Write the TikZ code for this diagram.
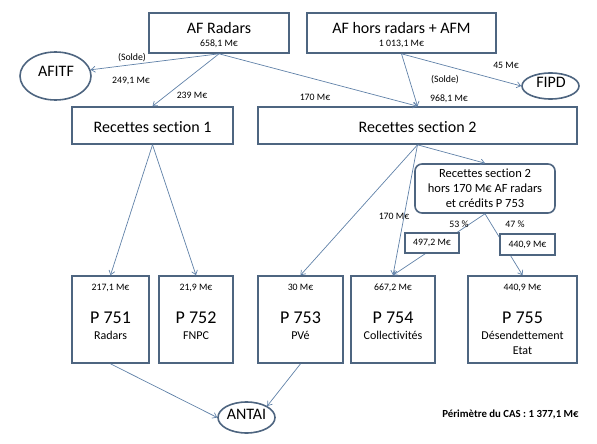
\documentclass[tikz,border=0pt]{standalone}
\usepackage{fontspec}
\setmainfont{Carlito}[Ligatures=NoCommon]
\usetikzlibrary{arrows.meta,positioning,shapes.geometric}
\definecolor{boxline}{RGB}{78,101,128}
\definecolor{flowline}{RGB}{96,129,168}

\tikzset{
  box/.style={draw=boxline, line width=1.6pt, fill=white, inner sep=0pt},
  oval/.style={ellipse, draw=boxline, line width=1.6pt, fill=white, inner sep=0pt},
  flow/.style={draw=flowline, line width=0.7pt, -{Straight Barb[length=4pt,width=6pt]}},
  big/.style={font=\fontsize{16}{18}\selectfont, inner sep=0pt},
  mid/.style={font=\fontsize{12}{15}\selectfont, inner sep=0pt},
  amt/.style={font=\fontsize{9.8}{11}\selectfont, inner sep=0pt},
}

\begin{document}
\begin{tikzpicture}[x=1pt,y=-1pt]
\useasboundingbox (0,0) rectangle (597,444);

% sources
\node[box, minimum width=140pt, minimum height=40pt] (radars) at (219,33) {};
\node[big, anchor=base] (radars-t) at (219,34) {AF Radars};
\node[amt, anchor=base] (radars-m) at (219,46.5) {658,1 M€};
\node[box, minimum width=189pt, minimum height=40pt] (horsradars) at (401.5,33) {};
\node[big, anchor=base] (horsradars-t) at (401.5,34) {AF hors radars + AFM};
\node[amt, anchor=base] (horsradars-m) at (401.5,46.5) {1 013,1 M€};

\node[oval, minimum width=71pt, minimum height=48pt] (afitf) at (55.5,76) {};
\node[big, anchor=base] (afitf-t) at (56,77) {AFITF};
\node[oval, minimum width=57pt, minimum height=26pt] (fipd) at (550.5,86) {};
\node[big, anchor=base] (fipd-t) at (551,87.5) {FIPD};

% sections
\node[box, minimum width=161pt, minimum height=37pt] (sec1) at (152.5,125.5) {};
\node[big, anchor=base] (sec1-t) at (152.5,132.3) {Recettes section 1};
\node[box, minimum width=319pt, minimum height=37pt] (sec2) at (417.5,125.5) {};
\node[big, anchor=base] (sec2-t) at (417.5,132.3) {Recettes section 2};
\node[box, rounded corners=7pt, minimum width=140pt, minimum height=49pt, align=center,
  font=\fontsize{12.5}{15}\selectfont] (reste) at (485,188.5)
  {Recettes section 2\\hors 170 M€ AF radars\\et crédits P 753};

% programmes
\foreach \n/\x/\w/\amt/\num/\lab in {p751/110.5/77/{217,1 M€}/{P 751}/Radars,
  p752/196/74/{21,9 M€}/{P 752}/FNPC, p753/300.5/85/{30 M€}/{P 753}/PVé,
  p754/393/84/{667,2 M€}/{P 754}/Collectivités,
  p755/522.5/109/{440,9 M€}/{P 755}/Désendettement}{
\node[box, minimum width=\w pt, minimum height=87pt] (\n) at (\x,319.5) {};
\node[amt, anchor=base] (\n-m) at (\x,290.5) {\amt};
\node[font=\fontsize{18}{20}\selectfont, inner sep=0pt, anchor=base] (\n-p) at (\x,323) {\num};
\node[mid, anchor=base] (\n-l) at (\x,339) {\lab};
}
\node[mid, anchor=base] (p755-l2) at (522.5,354) {Etat};

\node[oval, minimum width=57pt, minimum height=31pt] (antai) at (246.5,417.5) {};
\node[big, anchor=base] (antai-t) at (246.5,419.3) {ANTAI};

% flux
\draw[flow] (radars.south) -- (afitf.10);
\draw[flow] (radars.south) -- (sec1.north);
\draw[flow] (radars.south) -- (sec2.north);
\draw[flow] (horsradars.south) -- (sec2.north);
\draw[flow] (horsradars.south) -- (fipd.west);
\draw[flow] (sec1.south) -- (p751.north);
\draw[flow] (sec1.south) -- (p752.north);
\draw[flow] (sec2.south) -- (reste.north);
\draw[flow] (sec2.south) -- (p753.north);
\draw[flow] (sec2.south) -- (p754.north);
\draw[flow] (reste.south) -- (p754.north);
\draw[flow] (reste.south) -- (p755.north);
\draw[flow] (p751.south) -- (antai.west);
\draw[flow] (p753.south) -- (antai.north east);

\node[box, line width=1.4pt, minimum width=54pt, minimum height=20pt, amt] (part1) at (432,243) {497,2 M€};
\node[box, line width=1.4pt, minimum width=55pt, minimum height=21pt, amt] (part2) at (527.5,244.5) {440,9 M€};

% montants
\node[amt, anchor=base] (l1) at (132,61) {(Solde)};
\node[amt, anchor=base] (l2) at (131,83) {249,1 M€};
\node[amt, anchor=base] (l3) at (192,99) {239 M€};
\node[amt, anchor=base] (l4) at (315,100) {170 M€};
\node[amt, anchor=base] (l5) at (445,82) {(Solde)};
\node[amt, anchor=base] (l6) at (449,101.5) {968,1 M€};
\node[amt, anchor=base] (l7) at (506,69) {45 M€};
\node[amt, anchor=base] (l8) at (394,219) {170 M€};
\node[amt, anchor=base] (l9) at (459,227.5) {53 \%};
\node[amt, anchor=base] (l10) at (515,227.5) {47 \%};
\node[font=\bfseries\fontsize{10.8}{12}\selectfont, inner sep=0pt, anchor=base] (perimetre) at (510.5,417.3) {Périmètre du CAS : 1 377,1 M€};
\end{tikzpicture}
\end{document}
